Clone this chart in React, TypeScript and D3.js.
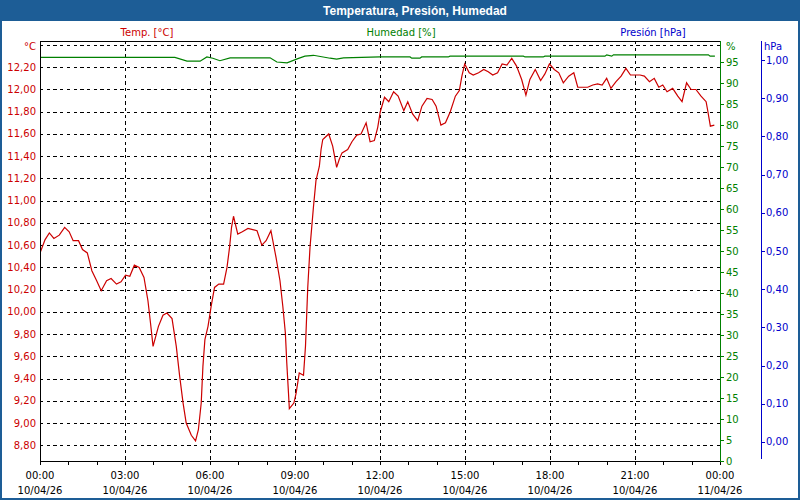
import React from "react";
import * as d3 from "d3";

// ---- data (hours since 10/04/26 00:00) ----
const tempHours = [0, 0.18, 0.33, 0.49, 0.68, 0.87, 1.03, 1.17, 1.36, 1.5, 1.67, 1.83, 2.0, 2.16, 2.35, 2.51, 2.7, 2.86, 3.02, 3.17, 3.33, 3.5, 3.67, 3.81, 3.9, 3.99, 4.18, 4.34, 4.48, 4.66, 4.81, 4.93, 5.05, 5.16, 5.34, 5.49, 5.59, 5.69, 5.75, 5.82, 5.93, 6.04, 6.16, 6.31, 6.48, 6.6, 6.69, 6.76, 6.83, 6.98, 7.14, 7.34, 7.51, 7.66, 7.83, 7.98, 8.15, 8.33, 8.47, 8.57, 8.66, 8.71, 8.77, 8.8, 8.96, 9.04, 9.15, 9.3, 9.37, 9.45, 9.53, 9.65, 9.74, 9.86, 9.92, 9.98, 10.19, 10.33, 10.47, 10.56, 10.66, 10.86, 11.01, 11.18, 11.33, 11.51, 11.65, 11.8, 11.92, 12.01, 12.16, 12.31, 12.48, 12.64, 12.84, 12.98, 13.15, 13.33, 13.48, 13.66, 13.84, 13.98, 14.15, 14.31, 14.48, 14.66, 14.8, 14.89, 14.99, 15.15, 15.29, 15.48, 15.66, 15.82, 15.98, 16.15, 16.31, 16.48, 16.65, 16.82, 17.0, 17.15, 17.29, 17.48, 17.67, 17.82, 17.98, 18.15, 18.31, 18.47, 18.66, 18.84, 18.98, 19.15, 19.33, 19.51, 19.68, 19.84, 20.0, 20.15, 20.33, 20.51, 20.68, 20.84, 21.01, 21.18, 21.33, 21.51, 21.68, 21.84, 21.98, 22.13, 22.33, 22.51, 22.66, 22.82, 22.98, 23.15, 23.33, 23.51, 23.56, 23.66, 23.8];
const tempValues = [10.53, 10.65, 10.71, 10.66, 10.69, 10.76, 10.72, 10.64, 10.64, 10.56, 10.53, 10.37, 10.28, 10.19, 10.28, 10.3, 10.25, 10.27, 10.33, 10.32, 10.42, 10.4, 10.31, 10.1, 9.9, 9.69, 9.87, 9.97, 9.99, 9.94, 9.69, 9.42, 9.18, 9.0, 8.89, 8.84, 8.94, 9.18, 9.51, 9.75, 9.87, 10.05, 10.22, 10.25, 10.25, 10.4, 10.58, 10.76, 10.86, 10.7, 10.72, 10.75, 10.74, 10.73, 10.6, 10.64, 10.73, 10.49, 10.28, 10.05, 9.81, 9.54, 9.27, 9.13, 9.18, 9.27, 9.45, 9.43, 9.69, 10.22, 10.58, 10.94, 11.18, 11.31, 11.46, 11.55, 11.6, 11.49, 11.3, 11.37, 11.43, 11.46, 11.53, 11.59, 11.6, 11.7, 11.53, 11.54, 11.66, 11.8, 11.93, 11.89, 11.98, 11.94, 11.81, 11.89, 11.78, 11.72, 11.85, 11.92, 11.91, 11.85, 11.68, 11.7, 11.8, 11.94, 11.99, 12.12, 12.23, 12.15, 12.13, 12.15, 12.18, 12.16, 12.13, 12.15, 12.23, 12.22, 12.28, 12.21, 12.09, 11.95, 12.09, 12.18, 12.08, 12.14, 12.23, 12.18, 12.15, 12.06, 12.12, 12.15, 12.02, 12.02, 12.02, 12.04, 12.05, 12.04, 12.1, 12.01, 12.07, 12.12, 12.19, 12.13, 12.13, 12.13, 12.12, 12.07, 12.1, 12.02, 12.04, 11.98, 12.01, 11.94, 11.89, 12.06, 12.0, 12.0, 11.94, 11.89, 11.82, 11.67, 11.68];

const humHours = [0, 3.95, 4.76, 5.19, 5.65, 5.89, 6.1, 6.35, 6.71, 8.12, 8.36, 8.72, 9.1, 9.35, 9.65, 10.24, 10.47, 10.71, 12.0, 13.06, 13.12, 13.41, 13.47, 14.41, 14.47, 17.06, 17.12, 17.76, 17.82, 19.94, 20.0, 20.18, 20.24, 23.59, 23.65, 23.82];
const humValues = [96.1, 96.1, 96.1, 95.2, 95.2, 96.2, 95.9, 95.3, 96.0, 96.0, 95.0, 94.8, 95.8, 96.4, 96.6, 95.9, 95.7, 96.0, 96.2, 96.2, 95.9, 95.9, 96.2, 96.2, 96.4, 96.4, 96.2, 96.2, 96.4, 96.4, 96.7, 96.4, 96.7, 96.7, 96.4, 96.4];

const tempTicks = [8.8, 9.0, 9.2, 9.4, 9.6, 9.8, 10.0, 10.2, 10.4, 10.6, 10.8, 11.0, 11.2, 11.4, 11.6, 11.8, 12.0, 12.2];
const tempTopGrid = 12.4;
const humTicks = [0, 5, 10, 15, 20, 25, 30, 35, 40, 45, 50, 55, 60, 65, 70, 75, 80, 85, 90, 95];
const presTicks = [0, 0.1, 0.2, 0.3, 0.4, 0.5, 0.6, 0.7, 0.8, 0.9, 1.0];
const hourTicks = d3.range(0, 25);
const majorHours = [0, 3, 6, 9, 12, 15, 18, 21, 24];
const timeLabels = ["00:00", "03:00", "06:00", "09:00", "12:00", "15:00", "18:00", "21:00", "00:00"];
const dateLabels = ["10/04/26", "10/04/26", "10/04/26", "10/04/26", "10/04/26", "10/04/26", "10/04/26", "10/04/26", "11/04/26"];

const TITLE = "Temperatura, Presión, Humedad";
const RED = "#cc0000";
const GREEN = "#008000";
const BLUE = "#0000cc";
const FRAME = "#1d5d96";
const FONT = "DejaVu Sans, Verdana, sans-serif";

const fmt = (v: number, d: number) => v.toFixed(d).replace(".", ",");

export default function App() {
  const L = 40, R = 720, T = 41, B = 461;
  const x = d3.scaleLinear().domain([0, 24]).range([L, R]);
  const yT = d3.scaleLinear().domain([8.8, 12.4]).range([445.3, 45]);
  const yH = d3.scaleLinear().domain([0, 100]).range([B, T]);
  const yP = d3.scaleLinear().domain([-0.05, 1.05]).range([B, T]);
  const pAxisX = 761;

  const tempLine = d3.line<number>().x((_, i) => x(tempHours[i])).y((d) => yT(d))(tempValues) || "";
  const humLine = d3.line<number>().x((_, i) => x(humHours[i])).y((d) => yH(d))(humValues) || "";

  const dash = "3.3 3.4";

  return (
    <svg width={800} height={500} style={{ position: "absolute", left: 0, top: 0, display: "block", background: "#fff" }} fontFamily={FONT}>
      <defs>
        <clipPath id="plotclip">
          <rect x={L} y={T} width={R - L} height={B - T} />
        </clipPath>
      </defs>
      <rect x={0} y={0} width={800} height={500} fill="#ffffff" />
      {/* frame & title bar */}
      <rect x={0} y={0} width={800} height={21} fill={FRAME} />
      <rect x={1} y={1} width={798} height={498} fill="none" stroke={FRAME} strokeWidth={2} />
      <text x={415} y={15} fill="#ffffff" fontWeight="bold" fontSize={12} textAnchor="middle" fontFamily="Liberation Sans, Arial, sans-serif">{TITLE}</text>

      {/* legend labels */}
      <text x={147} y={36} fill={RED} fontSize={10} textAnchor="middle">Temp. [°C]</text>
      <text x={401} y={36} fill={GREEN} fontSize={10} textAnchor="middle">Humedad [%]</text>
      <text x={653} y={36} fill={BLUE} fontSize={10} textAnchor="middle">Presión [hPa]</text>

      {/* grid */}
      <g stroke="#000" strokeWidth={1} strokeDasharray={dash} shapeRendering="crispEdges">
        {tempTicks.concat([tempTopGrid]).map((t) => (
          <line key={"h" + t} x1={L} x2={R} y1={Math.round(yT(t)) + 0.5} y2={Math.round(yT(t)) + 0.5} />
        ))}
        {majorHours.slice(1, -1).map((h) => (
          <line key={"v" + h} x1={Math.round(x(h)) + 0.5} x2={Math.round(x(h)) + 0.5} y1={T} y2={B} />
        ))}
      </g>

      {/* data */}
      <g clipPath="url(#plotclip)">
        <path d={humLine} fill="none" stroke={GREEN} strokeWidth={1.2} />
        <path d={tempLine} fill="none" stroke={RED} strokeWidth={1.2} />
      </g>

      {/* plot borders */}
      <g shapeRendering="crispEdges">
        <line x1={L} x2={R} y1={T + 0.5} y2={T + 0.5} stroke="#000" />
        <line x1={L + 0.5} x2={L + 0.5} y1={T} y2={B + 1} stroke="#000" />
        <line x1={L} x2={R} y1={B + 0.5} y2={B + 0.5} stroke="#000" />
        <line x1={R + 0.5} x2={R + 0.5} y1={T} y2={B + 1} stroke={GREEN} />
        <line x1={pAxisX + 0.5} x2={pAxisX + 0.5} y1={T} y2={B - 2} stroke={BLUE} />
        {hourTicks.map((h) => (
          <line key={"xt" + h} x1={Math.round(x(h)) + 0.5} x2={Math.round(x(h)) + 0.5} y1={B} y2={B + 4} stroke="#000" />
        ))}
        {humTicks.map((v) => (
          <line key={"ht" + v} x1={R} x2={R + 4} y1={Math.round(yH(v)) + 0.5} y2={Math.round(yH(v)) + 0.5} stroke={GREEN} />
        ))}
        {presTicks.map((v) => (
          <line key={"pt" + v} x1={pAxisX} x2={pAxisX + 4} y1={Math.round(yP(v)) + 0.5} y2={Math.round(yP(v)) + 0.5} stroke={BLUE} />
        ))}
      </g>

      {/* temperature axis labels */}
      <g fill={RED} fontSize={10} textAnchor="end">
        {tempTicks.map((t) => (
          <text key={"tl" + t} x={36} y={yT(t)} dy="0.35em">{fmt(t, 2)}</text>
        ))}
        <text x={36} y={46} dy="0.35em">°C</text>
      </g>
      {/* humidity labels */}
      <g fill={GREEN} fontSize={10}>
        {humTicks.map((v) => (
          <text key={"hl" + v} x={726} y={yH(v)} dy="0.35em">{String(v)}</text>
        ))}
        <text x={726} y={46} dy="0.35em">%</text>
      </g>
      {/* pressure labels */}
      <g fill={BLUE} fontSize={10}>
        {presTicks.map((v) => (
          <text key={"pl" + v} x={766} y={yP(v)} dy="0.35em">{fmt(v, 2)}</text>
        ))}
        <text x={764} y={46} dy="0.35em">hPa</text>
      </g>
      {/* time labels */}
      <g fill="#000" fontSize={10} textAnchor="middle">
        {majorHours.map((h, i) => (
          <g key={"tx" + h}>
            <text x={x(h)} y={479}>{timeLabels[i]}</text>
            <text x={x(h)} y={494}>{dateLabels[i]}</text>
          </g>
        ))}
      </g>
    </svg>
  );
}
